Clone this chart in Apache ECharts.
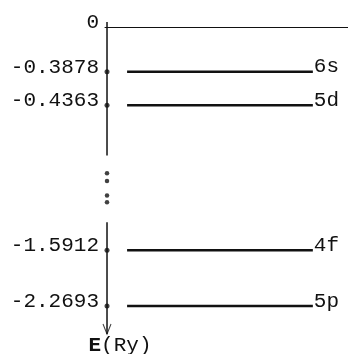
<!DOCTYPE html>
<html>
<head>
<meta charset="utf-8">
<script src="https://cdn.jsdelivr.net/npm/echarts@6/dist/echarts.min.js"></script>
<style>
  html, body { margin: 0; padding: 0; background: #fff; }
  #levels { width: 348px; height: 354px; }
</style>
</head>
<body>
<div id="levels"></div>
<script>
// energy levels (Ry); the diagram is schematic, not to scale
const levelNames = ['6s', '5d', '4f', '5p'];
const levelEnergies = [-0.3878, -0.4363, -1.5912, -2.2693];
// position of each level down the (broken) axis, in schematic units
const levelDepth = [4, 7, 20, 25];
const levelSpan = [1, 10.25];
const axisSegments = [[-0.45, 11.5], [17.5, 27.5]];
const breakDots = [13.1, 13.8, 15.1, 15.7];

const tickDepths = [0].concat(levelDepth);
const tickLabels = ['0'].concat(levelEnergies.map((v) => v.toFixed(4)));

const ink = '#111';
const mono = 'Liberation Mono';
const fontSize = 21;

const series = [];
axisSegments.forEach((seg) => {
  series.push({
    type: 'line',
    symbol: 'none',
    silent: true,
    clip: false,
    lineStyle: { color: ink, width: 1.5 },
    data: [[0, seg[0]], [0, seg[1]]],
  });
});
levelDepth.forEach((d, i) => {
  series.push({
    type: 'line',
    name: levelNames[i],
    symbol: 'none',
    silent: true,
    lineStyle: { color: ink, width: 2.5 },
    endLabel: {
      show: true,
      formatter: levelNames[i],
      distance: 1,
      offset: [0, -5],
      color: ink,
      fontFamily: mono,
      fontSize: fontSize,
    },
    data: [[levelSpan[0], d], [levelSpan[1], d]],
  });
});
// tick dots on the axis
series.push({
  type: 'scatter',
  symbolSize: 5,
  silent: true,
  clip: false,
  itemStyle: { color: ink },
  data: levelDepth.map((d) => [0, d]),
});
// vertical ellipsis where the axis is broken
series.push({
  type: 'scatter',
  symbolSize: 4.5,
  silent: true,
  clip: false,
  itemStyle: { color: ink },
  data: breakDots.map((d) => [0, d]),
});
// open arrow head at the end of the axis
series.push({
  type: 'scatter',
  symbol: 'path://M0,0L5,9L10,0',
  symbolSize: [8, 10],
  symbolOffset: [0, -5],
  silent: true,
  clip: false,
  itemStyle: { color: 'none', borderColor: ink, borderWidth: 1.2 },
  data: [[0, axisSegments[1][1]]],
});

const option = {
  backgroundColor: '#fff',
  animation: false,
  grid: {
    left: 105,
    top: 27,
    right: 0,
    height: 307,
    outerBoundsMode: 'none',
  },
  xAxis: {
    type: 'value',
    position: 'top',
    min: -0.1,
    max: 12,
    axisLine: { show: true, onZero: false, lineStyle: { color: ink, width: 1 } },
    axisTick: { show: false },
    axisLabel: { show: false },
    splitLine: { show: false },
  },
  yAxis: {
    type: 'value',
    inverse: true,
    min: 0,
    max: axisSegments[1][1],
    axisLine: { show: false },
    axisTick: { show: false },
    splitLine: { show: false },
    axisLabel: {
      customValues: tickDepths,
      formatter: (v) => tickLabels[tickDepths.indexOf(v)],
      margin: 6,
      color: ink,
      fontFamily: mono,
      fontSize: fontSize,
      verticalAlign: 'bottom',
      lineHeight: 9,
    },
    name: '{b|E}(Ry)',
    nameLocation: 'end',
    nameGap: 1,
    nameTextStyle: {
      color: ink,
      fontFamily: mono,
      fontSize: fontSize,
      padding: [0, 0, 0, 26],
      rich: {
        b: { fontFamily: mono, fontSize: fontSize, fontWeight: 'bold', color: ink },
      },
    },
  },
  series: series,
};

const chart = echarts.init(document.getElementById('levels'));
chart.setOption(option);
window.addEventListener('resize', () => {
  chart.resize();
});
</script>
</body>
</html>
